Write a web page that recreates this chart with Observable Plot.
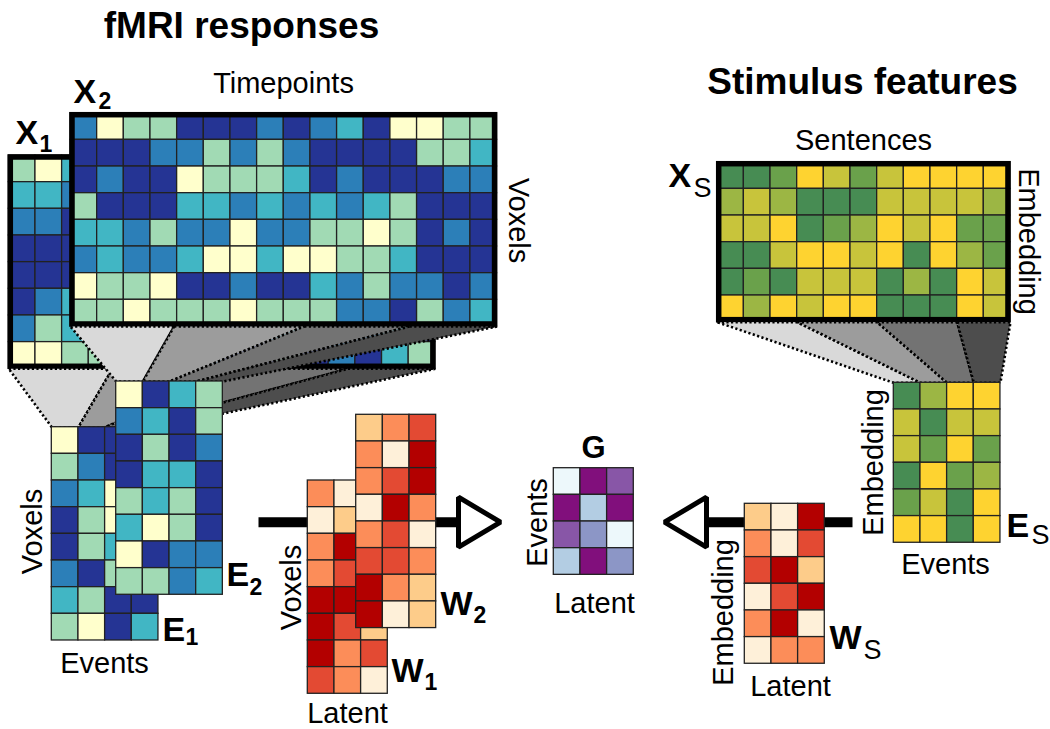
<!DOCTYPE html>
<html>
<head>
<meta charset="utf-8">
<script src="https://cdn.jsdelivr.net/npm/d3@7"></script>
<script src="https://cdn.jsdelivr.net/npm/@observablehq/plot@0.6"></script>
<style>
  html, body { margin: 0; padding: 0; background: #fff; }
</style>
</head>
<body>
<div id="chart"></div>
<script>
// Colour levels for each kind of matrix (0 = low ... 4 = high)
const fmriColors   = ["#ffffcc", "#a1dab4", "#41b6c4", "#2c7fb8", "#253494"];
const stimColors   = ["#fed330", "#c8c43b", "#9cb644", "#6aa14b", "#478c53"];
const weightColors = ["#fef0d9", "#fdcc8a", "#fc8d59", "#e34a33", "#b30000"];
const sharedColors = ["#edf8fb", "#b3cde3", "#8c96c6", "#8856a7", "#810f7c"];

// fMRI responses, subject 1 (voxels x timepoints)
const X1 = [
  [1,0,2,3,4,4,2,1,0,3,4,4,1,2,3,3],
  [2,2,3,4,4,1,1,3,4,4,2,1,3,3,1,2],
  [3,3,4,4,0,1,3,4,4,3,2,0,1,4,4,3],
  [4,4,4,3,2,1,4,4,3,2,1,1,4,4,3,4],
  [4,4,4,2,3,3,0,1,2,3,4,4,1,0,3,4],
  [4,3,2,1,2,4,4,3,2,1,0,2,3,4,4,3],
  [3,1,2,2,1,0,3,4,4,3,2,1,4,3,2,4],
  [0,0,1,1,1,2,4,3,4,4,1,4,3,4,2,1]
];
// fMRI responses, subject 2
const X2 = [
  [3,0,1,1,4,4,4,3,4,3,2,4,0,0,1,1],
  [4,4,4,3,3,1,3,1,3,4,4,4,4,1,1,2],
  [4,3,4,4,0,1,1,1,2,4,3,4,4,4,3,3],
  [1,4,4,4,2,2,3,2,3,2,3,2,1,4,4,4],
  [2,2,3,1,3,3,0,3,3,1,1,0,1,4,3,4],
  [3,2,3,3,2,0,0,2,0,0,1,1,2,4,4,4],
  [0,1,1,0,4,4,3,4,4,2,3,1,3,3,4,3],
  [1,1,0,1,1,1,0,1,1,1,3,3,4,1,3,2]
];
// event-averaged responses (voxels x events)
const E1 = [
  [0,4,4,2],[1,3,4,1],[3,2,0,4],[4,1,0,3],
  [4,1,2,1],[3,4,1,2],[2,1,4,4],[1,0,4,2]
];
const E2 = [
  [0,4,2,1],[3,2,4,1],[4,1,4,3],[4,2,2,4],
  [1,2,1,4],[2,0,1,4],[0,4,3,3],[1,1,3,2]
];
// subject weights (voxels x latent)
const W1 = [
  [2,0,3],[0,1,2],[2,4,1],[2,3,4],
  [4,4,2],[4,3,1],[4,2,3],[3,2,0]
];
const W2 = [
  [1,2,3],[2,0,4],[2,3,4],[0,4,2],
  [2,3,0],[3,3,2],[4,2,1],[4,0,1]
];
// shared space (events x latent)
const G = [
  [0,4,3],[4,1,4],[3,2,0],[1,4,2]
];
// stimulus features (embedding x sentences)
const XS = [
  [4,4,3,0,1,3,1,0,0,0,0],
  [2,1,2,4,4,4,1,1,1,1,2],
  [1,1,0,4,3,2,0,1,0,3,3],
  [4,4,1,0,0,1,0,4,0,2,3],
  [4,3,4,1,1,1,4,2,4,0,1],
  [0,2,0,1,0,0,4,4,4,0,1]
];
const ES = [
  [4,2,0,0],[1,4,1,1],[1,3,0,3],[4,0,3,2],[3,1,4,0],[0,0,4,0]
];
const WS = [
  [1,0,4],[2,0,3],[3,4,1],[0,3,4],[2,4,0],[0,2,2]
];

// ---- layout (pixels) ----
const CELL = 26.66;
const pos = {
  X1: {x: 8.3,   y: 155},   X2: {x: 70,    y: 112.7},
  E1: {x: 51.3,  y: 426.7}, E2: {x: 115.7, y: 381},
  W1: {x: 307.3, y: 480},   W2: {x: 355.7, y: 414.3},
  G:  {x: 553.3, y: 467.7},
  XS: {x: 716.7, y: 161.7}, ES: {x: 893.3, y: 382.3}, WS: {x: 744.3, y: 503.3}
};
// where each time window starts/ends along the bottom of a data matrix
const fmriSplits = [0, 0.243, 0.548, 0.795, 1];
const stimSplits = [0, 3 / 11, 6 / 11, 9 / 11, 1];
const shades = ["#d9d9d9", "#9c9c9c", "#737373", "#4d4d4d"];
const FONT = "Liberation Sans, Arial, Helvetica, sans-serif";

// colour scale keys
const schemes = {f: fmriColors, s: stimColors, w: weightColors, g: sharedColors};
const colorDomain = [], colorRange = [];
for (const [k, cols] of Object.entries(schemes)) cols.forEach((c, i) => { colorDomain.push(k + i); colorRange.push(c); });

function cells(matrix, p, scheme) {
  const out = [];
  matrix.forEach((row, i) => row.forEach((v, j) => out.push({
    x1: p.x + j * CELL, x2: p.x + (j + 1) * CELL,
    y1: p.y + i * CELL, y2: p.y + (i + 1) * CELL, key: scheme + v
  })));
  return out;
}
function bounds(matrix, p) {
  return {x1: p.x, x2: p.x + matrix[0].length * CELL, y1: p.y, y2: p.y + matrix.length * CELL};
}
function matrixMarks(matrix, p, scheme, thick) {
  const m = [Plot.rect(cells(matrix, p, scheme), {
    x1: "x1", x2: "x2", y1: "y1", y2: "y2", fill: "key", stroke: "#222", strokeWidth: 1.3
  })];
  if (thick) m.push(Plot.rect([bounds(matrix, p)], {
    x1: "x1", x2: "x2", y1: "y1", y2: "y2", fill: "none", stroke: "#000", strokeWidth: 5.5, inset: 2
  }));
  return m;
}
// fan of grey wedges from windows of a data matrix to the columns of its summary
function projection(src, sp, dst, dp, splits) {
  const b = bounds(src, sp);
  const w = b.x2 - b.x1;
  return shades.map((shade, k) => {
    const xa = b.x1 + splits[k] * w, xb = b.x1 + splits[k + 1] * w;
    const ca = dp.x + k * CELL, cb = dp.x + (k + 1) * CELL;
    const pts = [{x: xa, y: b.y2}, {x: xb, y: b.y2}, {x: cb, y: dp.y}, {x: ca, y: dp.y}, {x: xa, y: b.y2}];
    return Plot.line(pts, {
      x: "x", y: "y", fill: shade, stroke: "#000", strokeWidth: 2.6,
      strokeDasharray: "2.2,2.4", strokeLinecap: "butt", strokeLinejoin: "miter"
    });
  });
}
function arrowBar(x0, x1, y) {
  return Plot.line([{x: x0, y}, {x: x1, y}], {x: "x", y: "y", stroke: "#000", strokeWidth: 10, strokeLinecap: "butt"});
}
function arrowHead(baseX, tipX, y, half) {
  return Plot.line([{x: baseX, y}, {x: baseX, y: y - half}, {x: tipX, y}, {x: baseX, y: y + half}, {x: baseX, y}],
    {x: "x", y: "y", fill: "#fff", stroke: "#000", strokeWidth: 5, strokeLinejoin: "miter"});
}
function label(text, x, y, o = {}) {
  return Plot.text([text], {
    x, y, text: d => d, fontSize: o.size ?? 29, fontWeight: o.bold ? "bold" : "normal",
    textAnchor: o.anchor ?? "middle", lineAnchor: o.rotate ? "middle" : "bottom",
    rotate: o.rotate ?? 0, fill: "#000", fontFamily: FONT
  });
}
function symbol(letter, sub, x, y, subX, subY, subBold) {
  return [
    label(letter, x, y, {size: 34, bold: true, anchor: "start"}),
    label(sub, subX, subY, {size: subBold ? 23 : 27, bold: subBold, anchor: "start"})
  ];
}

const marks = [
  ...matrixMarks(X1, pos.X1, "f", true),
  ...projection(X1, pos.X1, E1, pos.E1, fmriSplits),
  ...matrixMarks(X2, pos.X2, "f", true),
  ...projection(X2, pos.X2, E2, pos.E2, fmriSplits),
  ...matrixMarks(E1, pos.E1, "f", false),
  ...matrixMarks(E2, pos.E2, "f", false),
  arrowBar(258, 458, 521.7),
  ...matrixMarks(W1, pos.W1, "w", false),
  ...matrixMarks(W2, pos.W2, "w", false),
  arrowHead(458, 500, 521.7, 25),
  ...matrixMarks(G, pos.G, "g", false),
  ...matrixMarks(XS, pos.XS, "s", true),
  ...projection(XS, pos.XS, ES, pos.ES, stimSplits),
  ...matrixMarks(ES, pos.ES, "s", false),
  arrowBar(852, 706, 521.7),
  ...matrixMarks(WS, pos.WS, "w", false),
  arrowHead(706, 664, 521.7, 25),

  // headings
  label("fMRI responses", 241, 37, {size: 37, bold: true}),
  label("Stimulus features", 862, 93, {size: 37, bold: true}),
  label("Timepoints", 283, 92),
  label("Sentences", 863, 149),
  label("Voxels", 518, 220, {rotate: 90}),
  label("Embedding", 1028, 241, {rotate: 90}),

  // matrix symbols
  ...symbol("X", "1", 15, 143, 39, 151, true),
  ...symbol("X", "2", 73, 102, 98, 108, true),
  ...symbol("X", "S", 668, 186, 693, 196, false),
  ...symbol("E", "2", 226, 585, 249, 594, true),
  ...symbol("E", "1", 162, 640, 185, 644, true),
  ...symbol("W", "2", 440, 614, 473, 622, true),
  ...symbol("W", "1", 391, 681, 424, 689, true),
  ...symbol("W", "S", 829, 648, 863, 658, false),
  ...symbol("E", "S", 1006, 536, 1031, 543, false),
  label("G", 593, 457, {size: 31, bold: true}),

  // axis names
  label("Voxels", 32, 531, {rotate: -90}),
  label("Events", 104, 672),
  label("Voxels", 291, 587, {rotate: -90}),
  label("Latent", 347, 722),
  label("Events", 537, 522, {rotate: -90}),
  label("Latent", 594, 612),
  label("Embedding", 873, 462, {rotate: -90}),
  label("Events", 945, 573),
  label("Embedding", 723, 612, {rotate: -90}),
  label("Latent", 790, 695)
];

const chart = Plot.plot({
  width: 1050, height: 729, margin: 0,
  x: {domain: [0, 1050], range: [0, 1050], axis: null},
  y: {domain: [0, 729], range: [0, 729], axis: null},
  color: {type: "ordinal", domain: colorDomain, range: colorRange},
  style: {background: "#fff", fontFamily: FONT, overflow: "visible"},
  marks
});
document.getElementById("chart").append(chart);
</script>
</body>
</html>
